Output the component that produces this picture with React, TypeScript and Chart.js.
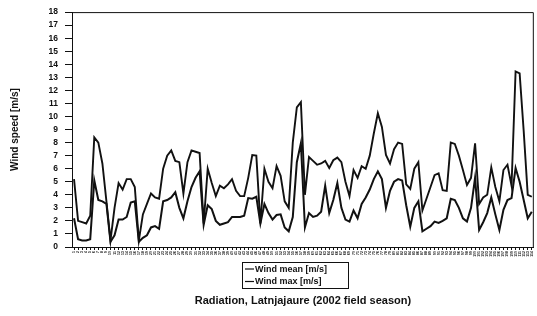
import React, { useEffect, useRef } from "react";
import { Chart, registerables } from "chart.js";

Chart.register(...registerables);

// Daily wind speed, Latnjajaure 2002 field season
const windMean = [
  2.2, 0.6, 0.5, 0.5, 0.6, 5.1, 3.6, 3.5, 3.3, 0.4,
  0.9, 2.1, 2.1, 2.3, 3.4, 3.5, 0.4, 0.7, 0.9, 1.5,
  1.6, 1.4, 3.5, 3.6, 3.8, 4.2, 3.0, 2.2, 3.5, 4.6,
  5.3, 5.8, 1.7, 3.2, 2.9, 2.0, 1.7, 1.8, 1.9, 2.3,
  2.3, 2.3, 2.4, 3.75, 3.7, 3.85, 1.8, 3.3, 2.6, 2.1,
  2.45, 2.5, 1.5, 1.2, 2.3, 6.5, 7.95, 1.5, 2.6, 2.3,
  2.4, 2.7, 4.7, 2.6, 3.6, 4.9, 3.0, 2.1, 1.95, 2.8,
  2.2, 3.3, 3.8, 4.4, 5.2, 5.8, 5.2, 3.0, 4.3, 5.0,
  5.2, 5.1, 3.2, 1.55, 3.0, 3.5, 1.2, 1.4, 1.6, 1.95,
  1.85, 2.0, 2.2, 3.7, 3.6, 3.0, 2.2, 1.95, 3.0, 5.3,
  1.3, 1.9, 2.6, 3.8, 2.5, 1.3, 2.85, 3.6, 3.75, 6.05,
  5.0, 3.6, 2.2, 2.7,
];

const windMax = [
  5.2, 2.0, 1.9, 1.8, 2.4, 8.4, 8.0, 6.4, 3.5, 0.5,
  3.0, 4.9, 4.4, 5.2, 5.2, 4.6, 0.5, 2.5, 3.3, 4.1,
  3.8, 3.7, 6.0, 7.0, 7.4, 6.6, 6.5, 4.1, 6.5, 7.4,
  7.3, 7.2, 1.8, 6.0, 4.9, 3.9, 4.7, 4.5, 4.8, 5.2,
  4.3, 3.9, 3.9, 5.3, 7.05, 7.0, 1.8, 6.0, 5.0, 4.5,
  6.2, 5.45, 3.5, 3.0, 8.0, 10.7, 11.1, 4.0, 6.9, 6.6,
  6.3, 6.4, 6.6, 6.05, 6.65, 6.85, 6.5, 5.0, 3.9, 5.9,
  5.3, 6.2, 6.0, 7.0, 8.7, 10.25, 9.2, 7.05, 6.4, 7.5,
  8.0, 7.9, 4.8, 4.45, 6.0, 6.5, 2.8, 3.7, 4.6, 5.5,
  5.65, 4.35, 4.3, 8.0, 7.9, 7.0, 5.9, 4.75, 5.3, 7.95,
  3.3, 3.8, 4.0, 6.1, 4.6, 3.5, 5.9, 6.3, 4.7, 13.45,
  13.3, 8.9, 4.0, 3.85,
];

const days = windMean.map((_, i) => String(i + 1));

const seriesLabels = ["Wind mean [m/s]", "Wind max [m/s]"];
const yAxisTitle = "Wind speed [m/s]";
const xAxisTitle = "Radiation, Latnjajaure (2002 field season)";
const yMin = 0;
const yMax = 18;
const yStep = 1;

const FONT = "'Liberation Sans', Arial, Helvetica, sans-serif";
const INK = "#111";

const frameAndLegend = {
  id: "frameAndLegend",
  afterDraw(chart: any) {
    const { ctx, chartArea: a } = chart;
    ctx.save();
    ctx.strokeStyle = INK;
    ctx.lineWidth = 1;
    // plot frame
    ctx.beginPath();
    ctx.moveTo(a.left, a.top + 0.5);
    ctx.lineTo(a.right - 0.5, a.top + 0.5);
    ctx.lineTo(a.right - 0.5, a.bottom);
    ctx.stroke();
    // legend box
    const bx = 242;
    const by = 262;
    const bw = 106;
    const bh = 26;
    ctx.strokeRect(bx + 0.5, by + 0.5, bw, bh);
    ctx.font = `bold 9px ${FONT}`;
    ctx.fillStyle = INK;
    ctx.textBaseline = "middle";
    ctx.textAlign = "left";
    seriesLabels.forEach((lbl, i) => {
      const ry = by + 7 + i * 12.5;
      ctx.lineWidth = 1.2;
      ctx.beginPath();
      ctx.moveTo(bx + 3, ry);
      ctx.lineTo(bx + 12, ry);
      ctx.stroke();
      ctx.fillText(lbl, bx + 13, ry + 0.5);
    });
    ctx.restore();
  },
};

export default function App() {
  const ref = useRef<HTMLCanvasElement | null>(null);

  useEffect(() => {
    document.body.style.margin = "0";
    const canvas = ref.current;
    if (!canvas) return;
    const chart = new Chart(canvas, {
      type: "line",
      data: {
        labels: days,
        datasets: [
          {
            label: seriesLabels[0],
            data: windMean,
            borderColor: INK,
            borderWidth: 2,
            pointRadius: 0,
            tension: 0,
            fill: false,
          },
          {
            label: seriesLabels[1],
            data: windMax,
            borderColor: INK,
            borderWidth: 1.9,
            pointRadius: 0,
            tension: 0,
            fill: false,
          },
        ],
      },
      options: {
        responsive: false,
        animation: false,
        events: [],
        layout: { padding: { top: 12, right: 2, left: 0, bottom: 0 } },
        plugins: {
          legend: { display: false },
          tooltip: { enabled: false },
        },
        scales: {
          x: {
            type: "category",
            offset: true,
            grid: {
              drawOnChartArea: false,
              drawTicks: true,
              tickLength: 3,
              color: INK,
              offset: false,
            },
            border: { display: true, color: INK, width: 1 },
            ticks: {
              autoSkip: false,
              maxRotation: 90,
              minRotation: 90,
              padding: 1,
              color: INK,
              font: { family: FONT, size: 3.5, weight: "bold" },
            },
            title: {
              display: true,
              text: xAxisTitle,
              color: INK,
              font: { family: FONT, size: 11, weight: "bold" },
              padding: { top: 0, bottom: 8 },
            },
            afterFit: (s: any) => {
              s.height = 69;
            },
          },
          y: {
            min: yMin,
            max: yMax,
            grid: {
              drawOnChartArea: false,
              drawTicks: true,
              tickLength: 7,
              color: INK,
            },
            border: { display: true, color: INK, width: 1 },
            ticks: {
              stepSize: yStep,
              autoSkip: false,
              padding: 7,
              color: INK,
              font: { family: FONT, size: 8.5, weight: "bold" },
            },
            title: {
              display: true,
              text: yAxisTitle,
              color: INK,
              font: { family: FONT, size: 10, weight: "bold" },
              padding: { top: 9, bottom: 0 },
            },
            afterFit: (s: any) => {
              s.width = 72;
            },
          },
        },
      },
      plugins: [frameAndLegend],
    });
    return () => chart.destroy();
  }, []);

  return (
    <div style={{ width: 537, height: 316, background: "#fff" }}>
      <canvas ref={ref} width={537} height={316} style={{ display: "block" }} />
    </div>
  );
}
